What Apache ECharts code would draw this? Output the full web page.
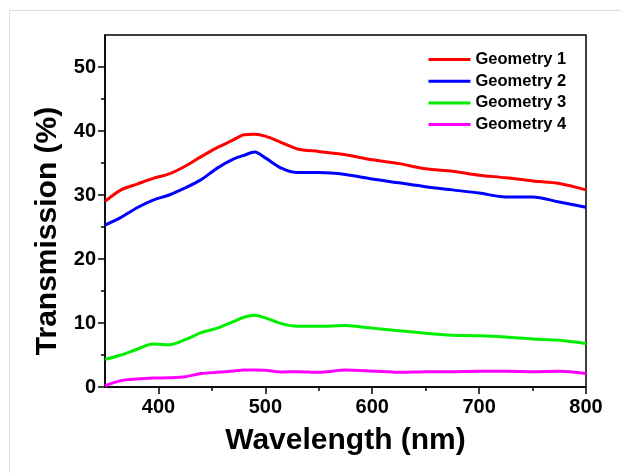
<!DOCTYPE html>
<html>
<head>
<meta charset="utf-8">
<script src="https://cdn.jsdelivr.net/npm/echarts@6/dist/echarts.min.js"></script>
<style>
  html, body { margin: 0; padding: 0; background: #fff; }
  #main { width: 621px; height: 473px; }
</style>
</head>
<body>
<div id="main"></div>
<script>
// wavelength (nm) shared by all curves
var wavelengths = [350, 365, 380, 395, 410, 425, 440, 455, 470, 480, 490, 500, 515, 530, 550, 575, 600, 625, 650, 675, 700, 725, 750, 775, 800];
var geometry1 = [29.0, 30.8, 31.7, 32.6, 33.3, 34.5, 36.0, 37.4, 38.6, 39.4, 39.5, 39.2, 38.2, 37.2, 36.8, 36.3, 35.5, 34.9, 34.1, 33.7, 33.1, 32.7, 32.2, 31.8, 30.8];
var geometry2 = [25.3, 26.5, 28.0, 29.2, 30.0, 31.1, 32.4, 34.2, 35.6, 36.2, 36.7, 35.8, 34.2, 33.5, 33.5, 33.2, 32.5, 31.9, 31.3, 30.8, 30.3, 29.7, 29.7, 28.9, 28.1];
var geometry3 = [4.3, 5.0, 5.9, 6.7, 6.6, 7.4, 8.5, 9.2, 10.2, 10.9, 11.2, 10.8, 9.9, 9.5, 9.5, 9.6, 9.2, 8.8, 8.4, 8.1, 8.0, 7.8, 7.5, 7.3, 6.8];
var geometry4 = [0.2, 1.0, 1.25, 1.4, 1.45, 1.6, 2.1, 2.3, 2.5, 2.65, 2.65, 2.6, 2.35, 2.4, 2.3, 2.65, 2.5, 2.3, 2.4, 2.4, 2.45, 2.45, 2.4, 2.45, 2.1];

var seriesNames = ['Geometry 1', 'Geometry 2', 'Geometry 3', 'Geometry 4'];
var seriesColors = ['#ff0000', '#0000ff', '#00ee00', '#ff00ff'];

var xMajorTicks = [400, 500, 600, 700, 800];
var xMinorTicks = [450, 550, 650, 750];
var yMajorTicks = [0, 10, 20, 30, 40, 50];
var yMinorTicks = [5, 15, 25, 35, 45];

var myChart = echarts.init(document.getElementById('main'));

function pairs(ys) {
    return wavelengths.map(function (x, i) { return [x, ys[i]]; });
}
var allData = [geometry1, geometry2, geometry3, geometry4];

var labelFont = {
    fontFamily: 'Liberation Sans, Arial, sans-serif',
    fontWeight: 'bold',
    color: '#000'
};

option = {
    animation: false,
    backgroundColor: '#fff',
    grid: {
        left: 105,
        right: 35,
        top: 35,
        bottom: 86,
        show: true,
        borderColor: '#000',
        borderWidth: 1.5
    },
    legend: {
        orient: 'vertical',
        left: 422,
        top: 46,
        itemWidth: 42,
        itemHeight: 14,
        itemGap: 4.7,
        data: seriesNames,
        itemStyle: { opacity: 0 },
        lineStyle: { width: 3 },
        textStyle: {
            fontFamily: 'Liberation Sans, Arial, sans-serif',
            fontWeight: 'bold',
            fontSize: 16.5,
            color: '#000'
        }
    },
    xAxis: [{
        type: 'value',
        min: 350,
        max: 800,
        name: 'Wavelength (nm)',
        nameLocation: 'middle',
        nameGap: 39,
        nameTextStyle: Object.assign({ fontSize: 30 }, labelFont),
        axisLine: { lineStyle: { color: '#000', width: 1.5 } },
        axisTick: { customValues: xMajorTicks, length: 7, lineStyle: { color: '#000', width: 1.5 } },
        axisLabel: Object.assign({ customValues: xMajorTicks, fontSize: 20, margin: 10 }, labelFont),
        splitLine: { show: false }
    }, {
        type: 'value',
        min: 350,
        max: 800,
        position: 'bottom',
        axisLine: { show: false },
        axisTick: { customValues: xMinorTicks, length: 4, lineStyle: { color: '#000', width: 1.5 } },
        axisLabel: { show: false },
        splitLine: { show: false }
    }],
    yAxis: [{
        type: 'value',
        min: 0,
        max: 55,
        name: 'Transmission (%)',
        nameLocation: 'middle',
        nameGap: 42,
        nameTextStyle: Object.assign({ fontSize: 30, padding: [0, 40, 0, 0] }, labelFont),
        axisLine: { show: true, lineStyle: { color: '#000', width: 1.5 } },
        axisTick: { show: true, customValues: yMajorTicks, length: 7, lineStyle: { color: '#000', width: 1.5 } },
        axisLabel: Object.assign({ customValues: yMajorTicks, fontSize: 20, margin: 9 }, labelFont),
        splitLine: { show: false }
    }, {
        type: 'value',
        min: 0,
        max: 55,
        position: 'left',
        axisLine: { show: false },
        axisTick: { show: true, customValues: yMinorTicks, length: 4, lineStyle: { color: '#000', width: 1.5 } },
        axisLabel: { show: false },
        splitLine: { show: false }
    }],
    graphic: [{
        type: 'polyline',
        shape: { points: [[9.5, 473], [9.5, 10.5], [621, 10.5]] },
        style: { stroke: '#dddddd', lineWidth: 1, fill: null },
        silent: true
    }],
    series: seriesNames.map(function (name, i) {
        return {
            name: name,
            type: 'line',
            data: pairs(allData[i]),
            symbol: 'none',
            smooth: 0.3,
            color: seriesColors[i],
            lineStyle: { width: 3, color: seriesColors[i] }
        };
    })
};

myChart.setOption(option);
</script>
</body>
</html>
